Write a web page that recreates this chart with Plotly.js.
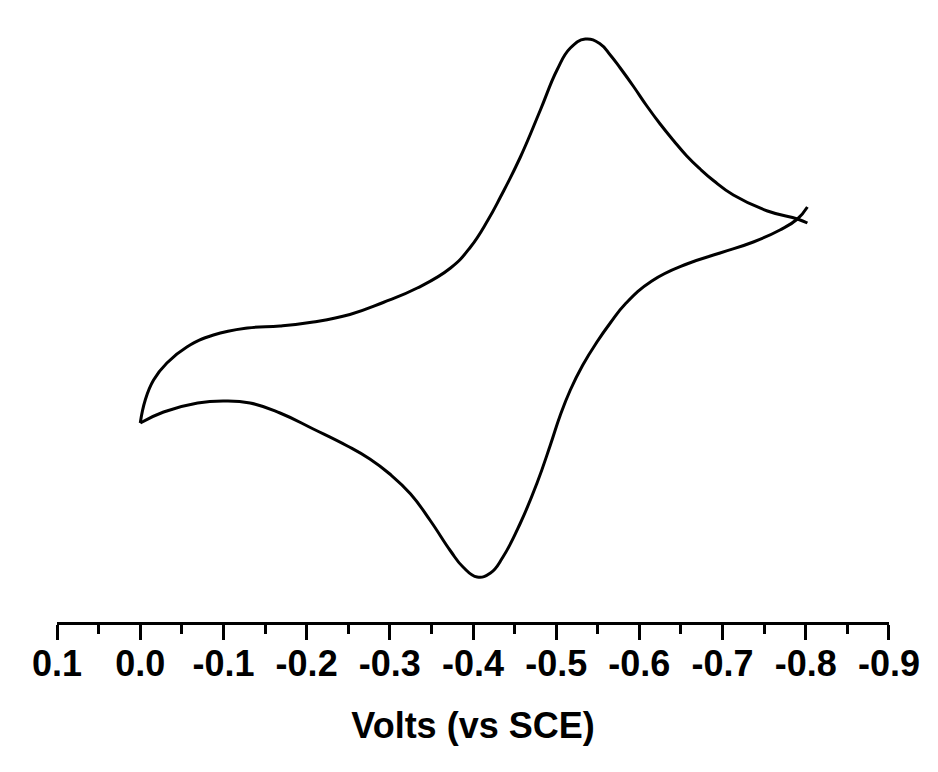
<!DOCTYPE html>
<html>
<head>
<meta charset="utf-8">
<script src="https://cdn.plot.ly/plotly-3.0.1.min.js"></script>
<style>html,body{margin:0;padding:0;background:#fff;}#chart{width:938px;height:772px;}</style>
</head>
<body>
<div id="chart"></div>
<script>
// Branch drawn lower in the picture: from 0.0 V to -0.8 V
const branchA_volts = [0.0, -0.028, -0.069, -0.100, -0.132, -0.168, -0.208, -0.249, -0.276, -0.300, -0.325, -0.349, -0.373, -0.388, -0.405, -0.421, -0.436, -0.457, -0.477, -0.493, -0.505, -0.517, -0.532, -0.549, -0.565, -0.583, -0.615, -0.657, -0.697, -0.737, -0.769, -0.790, -0.802];
const branchA_current = [-0.1, 1.0, 1.9, 2.1, 1.9, 0.9, -0.7, -2.4, -3.7, -5.2, -7.2, -9.9, -12.9, -14.5, -15.5, -15.1, -13.5, -10.1, -6.1, -2.3, 0.7, 3.2, 5.7, 8.0, 9.9, 11.8, 14.1, 15.8, 16.9, 18.0, 19.2, 20.3, 21.5];
// Branch drawn upper in the picture: from 0.0 V to -0.8 V
const branchB_volts = [0.0, -0.006, -0.016, -0.032, -0.056, -0.088, -0.129, -0.168, -0.208, -0.252, -0.292, -0.333, -0.373, -0.397, -0.418, -0.433, -0.457, -0.481, -0.501, -0.517, -0.535, -0.553, -0.565, -0.577, -0.593, -0.609, -0.625, -0.641, -0.657, -0.673, -0.689, -0.713, -0.754, -0.790, -0.802];
const branchB_current = [-0.1, 2.2, 4.2, 5.9, 7.5, 8.7, 9.4, 9.6, 10.0, 10.75, 11.95, 13.4, 15.4, 17.5, 20.2, 22.5, 26.5, 31.2, 35.2, 37.4, 38.3, 37.8, 36.7, 35.4, 33.55, 31.6, 29.8, 28.15, 26.6, 25.3, 24.15, 22.7, 21.1, 20.3, 19.9];
const tickValues = [0.1, 0.0, -0.1, -0.2, -0.3, -0.4, -0.5, -0.6, -0.7, -0.8, -0.9];
const tickLabels = ["0.1", "0.0", "-0.1", "-0.2", "-0.3", "-0.4", "-0.5", "-0.6", "-0.7", "-0.8", "-0.9"];

const lineStyle = {color: '#000', width: 3, shape: 'spline', smoothing: 1.3};
const traces = [
  {x: branchA_volts, y: branchA_current, mode: 'lines', line: lineStyle, hoverinfo: 'skip'},
  {x: branchB_volts, y: branchB_current, mode: 'lines', line: lineStyle, hoverinfo: 'skip'}
];
const font = {family: 'Arial, "Liberation Sans", sans-serif', color: '#000', weight: 'bold'};
const layout = {
  width: 938, height: 772,
  margin: {l: 57, r: 49, t: 20, b: 150},
  paper_bgcolor: '#fff', plot_bgcolor: '#fff',
  showlegend: false,
  xaxis: {
    range: [0.1001, -0.9001],
    showgrid: false, zeroline: false,
    showline: true, linecolor: '#000', linewidth: 3,
    ticks: 'outside', ticklen: 15, tickwidth: 3, tickcolor: '#000',
    tickmode: 'array', tickvals: tickValues, ticktext: tickLabels,
    ticklabelstandoff: -7,
    minor: {tickmode: 'linear', tick0: 0.05, dtick: 0.1, ticks: 'outside', ticklen: 9, tickwidth: 3, tickcolor: '#000'},
    tickfont: Object.assign({size: 36}, font),
    title: {text: 'Volts (vs SCE)', font: Object.assign({size: 36}, font), standoff: 30}
  },
  yaxis: {visible: false, range: [-20, 40.2], fixedrange: true}
};
Plotly.newPlot('chart', traces, layout, {staticPlot: true});
</script>
</body>
</html>
